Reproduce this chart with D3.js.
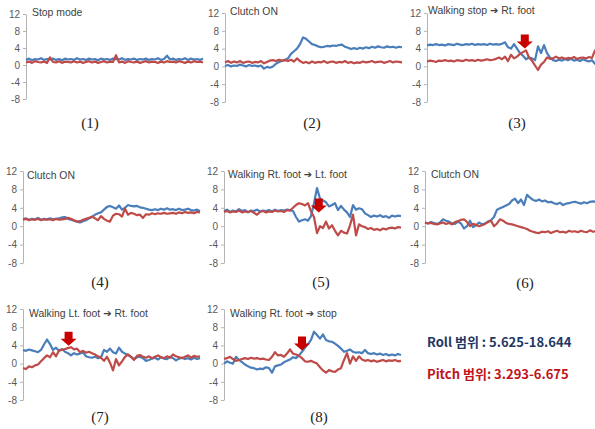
<!DOCTYPE html>
<html>
<head>
<meta charset="utf-8">
<script src="https://cdn.jsdelivr.net/npm/d3@7"></script>
<style>
body { margin: 0; background: #fff; }
svg { display: block; }
</style>
</head>
<body>
<svg id="chart" width="595" height="429"></svg>
<script>
// tick labels on every y axis
var yTicks = [12, 8, 4, 0, -4, -8];

// titles are split round the arrow so the arrow can use its own font
var titles = [['Stop mode'], ['Clutch ON'], ['Walking stop ', ' Rt. foot'], ['Clutch ON'],
              ['Walking Rt. foot ', ' Lt. foot'], ['Clutch ON'],
              ['Walking Lt. foot ', ' Rt. foot'], ['Walking Rt. foot ', ' stop']];
var labels = ['(1)', '(2)', '(3)', '(4)', '(5)', '(6)', '(7)', '(8)'];

// roll (blue) and pitch (red)
var roll1 = [1.2,1.5,1.1,1.4,1.3,1.6,1.2,1.4,1.3,1.5,1.2,1.4,1.1,1.5,1.3,1.4,1.2,1.6,1.3,1.4,
             1.2,1.5,1.3,1.4,1.1,1.5,1.3,1.4,1.2,1.5,1.4,1.3,1.6,1.2,1.4,1.3,1.5,1.2,1.4,1.3,
             1.5,1.2,1.4,1.3,1.6,1.2,1.4,2.2,1.3,1.5,1.2,1.4,1.3,1.6,1.2,1.5,1.3,1.4,1.2,1.5];
var pitch1 = [0.6,0.8,0.5,0.9,0.7,0.6,0.8,0.5,1.8,0.7,0.6,0.9,0.5,0.8,0.7,0.6,0.9,0.6,0.8,0.5,
              0.7,0.9,0.6,0.8,0.5,0.7,0.9,0.6,0.8,0.7,2.3,0.6,0.8,0.5,0.9,0.7,0.6,0.8,0.5,0.7,
              0.9,0.6,0.8,0.7,0.5,0.8,0.6,0.9,0.7,0.8,0.6,0.9,0.7,0.5,0.8,0.6,0.9,0.7,0.8,0.6];

var roll2 = [0.1,0.3,0.0,0.2,0.1,0.4,0.2,0.0,0.3,0.1,0.2,0.0,0.2,-0.5,-0.1,-0.3,0.0,0.6,1.0,1.2,
             1.5,1.8,2.8,3.4,4.0,5.0,6.5,6.2,5.6,5.0,4.8,4.5,4.3,4.4,4.6,4.5,4.7,4.6,4.8,4.9,
             4.4,4.2,3.9,4.1,3.9,4.2,4.0,4.3,4.1,4.4,4.2,4.5,4.3,4.2,4.5,4.3,4.4,4.2,4.4,4.3];
var pitch2 = [0.9,1.2,0.8,1.1,0.9,1.2,0.8,1.0,1.1,0.8,1.0,0.9,1.2,0.7,1.0,1.3,1.4,1.2,1.5,1.3,
              1.4,1.2,1.5,1.1,1.8,1.2,0.8,1.0,0.7,1.1,0.8,1.0,0.9,1.2,0.8,1.0,1.1,0.8,1.0,0.9,
              1.2,0.8,1.0,0.7,0.9,0.8,1.1,0.9,1.0,1.2,0.9,1.0,1.1,0.8,1.0,1.2,0.9,1.1,1.0,0.9];

var roll3 = [4.7,4.9,4.8,5.0,4.8,4.9,4.7,5.0,4.9,4.8,5.1,4.9,4.8,5.0,4.9,5.1,4.8,5.0,4.9,5.0,
             4.8,5.1,4.9,5.0,4.9,5.1,5.4,4.3,4.0,5.0,4.0,3.0,2.4,1.6,2.0,1.8,1.4,4.5,3.0,4.8,
             3.0,2.0,1.4,1.2,1.5,1.3,1.6,1.4,1.7,1.3,1.5,1.2,1.6,1.3,1.1,1.4,0.6,0.8,0.5,0.7];
var pitch3 = [1.1,1.3,1.2,1.0,1.3,1.2,1.4,1.2,1.3,1.1,1.4,1.3,1.2,1.5,1.3,1.4,1.2,1.5,1.3,1.4,
              1.6,1.4,1.5,1.7,2.0,1.6,2.2,1.2,2.6,1.8,2.2,2.8,3.2,3.6,2.0,1.3,0.2,-0.8,0.4,1.0,
              2.0,1.7,1.8,2.2,1.8,2.0,1.7,1.9,1.8,2.1,1.7,1.9,2.0,1.8,2.1,1.9,3.6,1.8,2.0,1.9];

var roll4 = [1.5,1.7,1.4,1.6,1.5,1.8,1.4,1.6,1.5,1.7,1.5,1.6,1.7,1.9,2.0,1.6,1.4,1.2,1.0,0.8,
             1.1,1.3,1.7,2.0,2.5,2.8,3.0,3.6,4.2,4.4,4.1,3.8,4.5,3.6,4.0,4.6,4.4,4.3,4.4,4.1,
             4.0,3.8,3.6,3.5,3.7,3.5,3.8,3.6,3.9,3.6,3.7,3.5,3.8,3.5,3.6,3.8,3.5,3.4,3.6,3.3];
var pitch4 = [1.4,1.6,1.3,1.5,1.4,1.6,1.3,1.5,1.4,1.5,1.3,1.6,1.4,1.5,1.6,1.8,1.6,1.3,1.0,1.1,
              1.4,1.6,1.8,2.1,1.7,1.3,2.2,1.6,1.2,1.0,2.3,2.7,2.6,2.1,3.8,2.5,2.9,2.7,2.4,2.5,
              1.8,2.6,2.5,2.8,2.6,2.8,2.7,2.9,2.7,2.8,2.9,2.7,3.0,2.8,3.1,2.9,3.0,2.8,3.1,3.0];

var roll5 = [3.3,3.6,3.1,3.4,3.2,3.7,3.3,3.5,3.0,3.4,3.3,3.6,3.2,3.4,3.3,3.5,3.2,3.6,3.3,3.5,
             3.4,3.6,3.5,3.3,2.0,1.0,1.3,1.5,1.2,2.2,5.0,8.3,6.0,5.6,5.2,4.3,4.6,5.0,3.5,4.4,
             3.6,3.0,2.0,4.6,3.6,3.9,3.7,2.8,2.4,2.0,2.3,2.1,2.4,2.0,2.2,1.8,2.3,2.1,2.3,2.2];
var pitch5 = [3.1,3.3,3.0,3.2,3.1,3.4,3.0,3.2,3.1,3.3,2.9,2.5,3.1,3.3,3.0,3.2,3.1,3.4,3.2,3.3,
              3.1,3.5,3.4,4.0,4.6,5.0,4.8,4.5,5.0,3.2,2.0,-1.5,0.0,-0.4,1.0,-0.5,0.2,-1.0,-2.0,-1.0,
              -1.4,-1.6,0.2,2.5,-2.0,0.4,0.0,-0.2,-0.6,-0.4,-0.8,-0.6,-0.9,-0.5,-0.7,-0.4,-0.3,-0.5,-0.2,-0.3];

var roll6 = [0.8,0.6,0.9,0.7,0.5,0.8,1.5,1.2,1.0,0.6,0.5,1.0,0.6,-0.5,0.0,1.2,-0.2,0.2,0.8,0.4,
             0.6,1.0,1.3,2.0,3.6,3.9,4.2,4.5,4.8,5.6,6.0,5.0,5.8,4.6,6.8,6.2,5.7,5.5,5.8,5.4,
             5.6,5.2,5.3,5.0,4.8,5.1,4.6,4.9,5.0,5.2,5.3,5.1,4.9,5.2,5.0,5.3,5.4,5.3,5.5,5.4];
var pitch6 = [0.8,0.6,0.7,0.5,0.4,0.6,0.8,0.5,0.7,0.4,0.9,1.1,1.4,1.5,0.9,0.0,0.5,0.3,0.0,0.2,
              0.5,0.9,1.2,0.0,0.6,1.5,1.2,0.7,0.5,0.4,0.2,0.0,-0.2,-0.4,-0.6,-1.0,-1.2,-1.4,-1.5,-1.2,
              -1.3,-1.1,-1.5,-1.2,-1.0,-1.3,-1.2,-1.4,-1.0,-1.2,-1.1,-1.3,-1.0,-1.2,-1.3,-0.9,-1.2,-1.1,-1.3,-1.2];

var roll7 = [3.0,2.8,3.1,2.9,2.7,2.5,3.0,4.2,5.3,4.3,3.0,3.5,2.8,3.2,2.6,2.3,1.8,2.3,2.0,2.2,
             2.5,1.6,1.4,1.3,1.5,1.2,1.4,3.0,2.6,3.3,2.5,2.2,3.5,2.6,2.2,1.9,1.5,1.0,1.4,1.5,
             1.2,0.6,0.8,1.1,1.3,0.9,1.4,1.1,1.0,1.5,1.2,0.7,1.1,1.3,1.0,1.2,0.9,1.3,1.0,1.2];
var pitch7 = [-1.0,-1.2,-0.6,-0.8,-0.4,-0.2,0.5,1.2,1.8,1.4,2.5,1.6,2.9,3.0,3.2,3.4,3.6,3.1,3.3,2.5,
              2.8,2.4,2.6,2.3,2.0,1.6,1.3,0.6,1.5,0.2,-1.5,1.0,-0.4,0.5,1.5,2.0,1.5,0.8,1.7,1.9,
              1.5,1.3,1.6,1.2,1.5,1.8,1.4,1.2,1.6,1.3,2.0,1.6,1.4,1.2,1.5,1.8,1.3,1.7,1.5,1.6];

var roll8 = [0.0,0.5,0.2,0.0,1.5,0.8,0.3,-0.2,-0.6,-0.9,-1.0,-1.3,-1.1,-1.2,-0.8,-1.0,-2.0,-0.6,-0.4,-0.2,
             0.3,0.6,0.9,1.4,1.2,1.8,2.6,3.5,4.3,5.2,7.0,6.3,5.5,6.4,5.2,4.9,4.8,4.4,3.9,3.3,
             2.6,2.8,3.1,2.6,2.4,2.5,2.3,3.0,2.3,2.1,2.3,2.0,2.2,1.9,2.1,1.8,2.0,1.8,2.1,1.9];
var pitch8 = [1.0,1.2,1.5,1.0,0.6,0.8,1.0,1.2,1.0,1.3,1.1,1.2,1.0,1.1,0.9,0.8,1.5,2.5,1.8,1.9,
              1.5,2.2,3.1,2.2,2.0,1.7,1.2,0.5,0.4,0.6,0.3,0.0,-0.8,-1.5,-2.0,-1.4,-1.7,-1.8,-1.3,-1.0,
              0.8,2.3,0.0,1.6,0.6,1.6,0.9,0.6,0.8,0.5,0.7,0.4,0.6,0.8,0.5,0.7,0.6,0.8,0.5,0.6];

var rolls = [roll1, roll2, roll3, roll4, roll5, roll6, roll7, roll8];
var pitches = [pitch1, pitch2, pitch3, pitch4, pitch5, pitch6, pitch7, pitch8];

// red arrows: sample index and value of the tip
var arrows = [null, null, {i: 32.6, v: 4.0}, null, {i: 31.6, v: 3.0}, null,
              {i: 15.2, v: 3.9}, {i: 26, v: 2.9}];

var rangeTexts = ['Roll \uBC94\uC704 : 5.625-18.644', 'Pitch \uBC94\uC704: 3.293-6.675'];
var rangeColors = ['#1f3864', '#c0141c'];

// where each small chart sits
var plotWidth = 177;
var layout = [
  {x: 26,  top: 14,  bottom: 99,  tx: 6, ty: 16,  lx: 90,  ly: 128},
  {x: 225, top: 13,  bottom: 102, tx: 5, ty: 15,  lx: 312, ly: 128},
  {x: 427, top: 13,  bottom: 102, tx: 1, ty: 14,  lx: 517, ly: 128},
  {x: 23,  top: 171, bottom: 263, tx: 4, ty: 179, lx: 100, ly: 287},
  {x: 224, top: 171, bottom: 263, tx: 4, ty: 178, lx: 321, ly: 287},
  {x: 425, top: 171, bottom: 263, tx: 6, ty: 178, lx: 525, ly: 288},
  {x: 23,  top: 309, bottom: 400, tx: 6, ty: 317, lx: 100, ly: 422},
  {x: 224, top: 309, bottom: 400, tx: 6, ty: 317, lx: 319, ly: 422}
];

var svg = d3.select('#chart');

function drawPanel(k) {
  var L = layout[k];
  var g = svg.append('g');
  var n = rolls[k].length;
  var x = d3.scaleLinear().domain([0, n - 1]).range([L.x, L.x + plotWidth]);
  var y = d3.scaleLinear().domain([-8, 12]).range([L.bottom, L.top]);

  var axis = d3.axisLeft(y).tickValues(yTicks).tickFormat(String)
      .tickSize(3).tickSizeOuter(0).tickPadding(3);
  var ax = g.append('g')
      .attr('transform', 'translate(' + L.x + ',0)')
      .attr('font-size', 6.5)
      .attr('font-family', 'Liberation Sans, Arial, sans-serif')
      .call(axis);
  ax.select('.domain').attr('stroke', '#b4b4b4');
  ax.selectAll('.tick line').attr('stroke', '#b4b4b4');
  ax.selectAll('.tick text').attr('fill', '#595959');

  var line = d3.line()
      .x(function(d, i) { return x(i); })
      .y(function(d) { return y(d); });

  g.append('path').datum(rolls[k])
      .attr('d', line)
      .attr('fill', 'none')
      .attr('stroke', '#4a7ebb')
      .attr('stroke-width', 2.2)
      .attr('stroke-linejoin', 'round');
  g.append('path').datum(pitches[k])
      .attr('d', line)
      .attr('fill', 'none')
      .attr('stroke', '#be4b48')
      .attr('stroke-width', 2.2)
      .attr('stroke-linejoin', 'round');

  // block arrow pointing down at the event
  var a = arrows[k];
  if (a) {
    var ax0 = x(a.i), ay0 = y(a.v);
    var pts = [[-4, -14], [4, -14], [4, -7], [8, -7], [0, 0], [-8, -7], [-4, -7]];
    g.append('path')
        .attr('d', d3.line()(pts.map(function(p) { return [ax0 + p[0], ay0 + p[1]]; })) + 'Z')
        .attr('fill', '#c80000');
  }

  var t = g.append('text')
      .attr('x', L.x + L.tx)
      .attr('y', L.ty)
      .attr('font-family', 'Liberation Sans, Arial, sans-serif')
      .attr('font-size', 10.4)
      .attr('fill', '#404040');
  t.append('tspan').text(titles[k][0]);
  if (titles[k].length > 1) {
    t.append('tspan')
        .attr('font-family', 'DejaVu Sans, sans-serif')
        .attr('font-size', 10)
        .text('\u2794');
    t.append('tspan').text(titles[k][1]);
  }

  svg.append('text')
      .attr('x', L.lx)
      .attr('y', L.ly)
      .attr('text-anchor', 'middle')
      .attr('font-family', 'Liberation Serif, Times New Roman, serif')
      .attr('font-size', 15)
      .attr('fill', '#222')
      .text(labels[k]);
}

for (var k = 0; k < rolls.length; k++) {
  drawPanel(k);
}

// roll / pitch range notes
svg.selectAll('text.range')
    .data(rangeTexts)
    .enter().append('text')
    .attr('class', 'range')
    .attr('x', 427)
    .attr('y', function(d, i) { return 347 + i * 32; })
    .attr('font-family', 'Noto Sans CJK KR, sans-serif')
    .attr('font-weight', 'bold')
    .attr('font-size', 13)
    .attr('fill', function(d, i) { return rangeColors[i]; })
    .text(function(d) { return d; });
</script>
</body>
</html>
